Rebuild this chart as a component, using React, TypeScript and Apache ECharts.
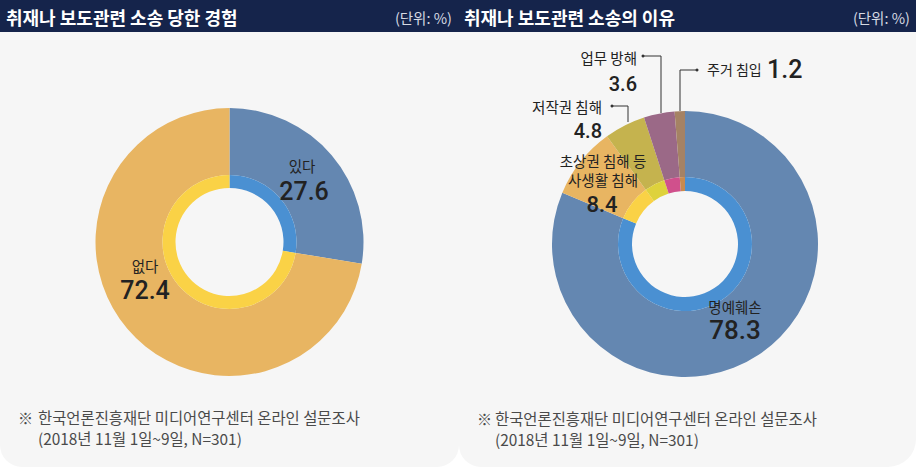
import React, { useEffect, useRef } from "react";
import * as echarts from "echarts";

const leftTitle = "취재나 보도관련 소송 당한 경험";
const rightTitle = "취재나 보도관련 소송의 이유";
const unitText = "(단위: %)";
const leftCategories = ["있다", "없다"];
const leftValues = [27.6, 72.4];
const rightCategories = ["명예훼손", "초상권 침해 등\n사생활 침해", "저작권 침해", "업무 방해", "주거 침입"];
const rightValues = [78.3, 8.4, 4.8, 3.6, 1.2];
const footLine1 = "한국언론진흥재단 미디어연구센터 온라인 설문조사";
const footLine2 = "(2018년 11월 1일~9일, N=301)";

const outerLeftColors = ["#6487b1", "#e8b562"];
const innerLeftColors = ["#4a90d2", "#fad246"];
const outerRightColors = ["#6487b1", "#e8b562", "#c5b34e", "#9b6987", "#a58264"];
const innerRightColors = ["#4a90d2", "#fad246", "#ded23c", "#d0508c", "#c88a50"];

const KR = '"Noto Sans CJK KR", "Noto Sans", sans-serif';
const NUM = 'Roboto, "Noto Sans", sans-serif';

function txt(text: string, x: number, y: number, size: number, opts: any = {}) {
  return {
    type: "text",
    x,
    y,
    z: 100,
    silent: true,
    style: {
      text,
      fontSize: size,
      fontFamily: opts.family || KR,
      fontWeight: opts.weight || "normal",
      fill: opts.fill || "#222",
      align: opts.align || "center",
      verticalAlign: "middle",
      lineHeight: opts.lineHeight,
    },
  };
}

function leader(points: number[][]) {
  return [
    {
      type: "polyline",
      z: 100,
      silent: true,
      shape: { points },
      style: { stroke: "#333", lineWidth: 1, fill: null },
    },
    {
      type: "circle",
      z: 100,
      silent: true,
      shape: { cx: points[0][0], cy: points[0][1], r: 1.5 },
      style: { fill: "#333" },
    },
  ];
}

export default function App() {
  const ref = useRef<HTMLDivElement>(null);
  useEffect(() => {
    document.body.style.margin = "0";
    const chart = echarts.init(ref.current!, undefined, { renderer: "svg" });
    const mk = (names: string[], vals: number[], colors: string[]) =>
      names.map((n, i) => ({ name: n, value: vals[i], itemStyle: { color: colors[i] } }));
    const pieBase = {
      type: "pie",
      startAngle: 90,
      clockwise: true,
      label: { show: false },
      labelLine: { show: false },
      silent: true,
      itemStyle: { borderWidth: 0 },
      emphasis: { disabled: true },
    };
    const rs = rightCategories;
    const foot = { align: "left", fill: "#4a4a4a" };
    const graphic: any[] = [
      { type: "rect", z: -10, shape: { x: 0, y: 0, width: 459, height: 467, r: [0, 0, 22, 22] }, style: { fill: "#f6f6f6" } },
      { type: "rect", z: -10, shape: { x: 459, y: 0, width: 457, height: 467, r: [0, 0, 28, 22] }, style: { fill: "#f6f6f6" } },
      { type: "rect", z: -5, shape: { x: 0, y: 0, width: 916, height: 32 }, style: { fill: "#15244b" } },
      txt(leftTitle, 6, 17, 18, { align: "left", weight: "bold", fill: "#ffffff" }),
      txt(unitText, 452, 17, 14.5, { align: "right", fill: "#d6dae3" }),
      txt(rightTitle, 464, 17, 18, { align: "left", weight: "bold", fill: "#ffffff" }),
      txt(unitText, 910, 17, 14.5, { align: "right", fill: "#d6dae3" }),
      // left labels
      txt(leftCategories[0], 302, 165, 14.5),
      txt(String(leftValues[0]), 304, 191, 25, { family: NUM, weight: 500 }),
      txt(leftCategories[1], 145, 265, 14.5),
      txt(String(leftValues[1]), 145, 290, 25, { family: NUM, weight: 500 }),
      // right labels
      txt(rs[0], 735, 306, 14.5),
      txt(String(rightValues[0]), 735, 330, 26, { family: NUM, weight: 500 }),
      txt(rs[1], 603, 170, 14.5, { lineHeight: 19 }),
      txt(String(rightValues[1]), 602, 204, 22, { family: NUM, weight: 500 }),
      txt(rs[2], 602, 106, 14.5, { align: "right" }),
      txt(String(rightValues[2]), 602, 131, 20, { family: NUM, weight: 500, align: "right" }),
      txt(rs[3], 637, 57, 14.5, { align: "right" }),
      txt(String(rightValues[3]), 637, 84, 20, { family: NUM, weight: 500, align: "right" }),
      txt(rs[4], 707, 69, 14, { align: "left" }),
      txt(String(rightValues[4]), 767, 69, 25, { family: NUM, weight: 500, align: "left" }),
      ...leader([[612, 106], [628, 106], [628, 122]]),
      ...leader([[643, 56], [661, 56], [661, 113]]),
      ...leader([[697, 70], [680, 70], [680, 111]]),
      // footnotes
      txt("※", 18, 417, 15, foot),
      txt(footLine1, 38, 417, 15.4, foot),
      txt(footLine2, 38, 438, 15.4, foot),
      txt("※", 477, 418, 15, foot),
      txt(footLine1, 495, 418, 15.4, foot),
      txt(footLine2, 495, 439, 15.4, foot),
    ];
    chart.setOption({
      animation: false,
      backgroundColor: "#ffffff",
      graphic,
      series: [
        { ...pieBase, center: [229.5, 242], radius: [67, 134], data: mk(leftCategories, leftValues, outerLeftColors) },
        { ...pieBase, center: [229.5, 242], radius: [54, 67], data: mk(leftCategories, leftValues, innerLeftColors) },
        { ...pieBase, center: [685, 244], radius: [67, 133], data: mk(rightCategories, rightValues, outerRightColors) },
        { ...pieBase, center: [685, 244], radius: [53, 67], data: mk(rightCategories, rightValues, innerRightColors) },
      ],
    });
    return () => chart.dispose();
  }, []);
  return <div ref={ref} style={{ width: 916, height: 470 }} />;
}
